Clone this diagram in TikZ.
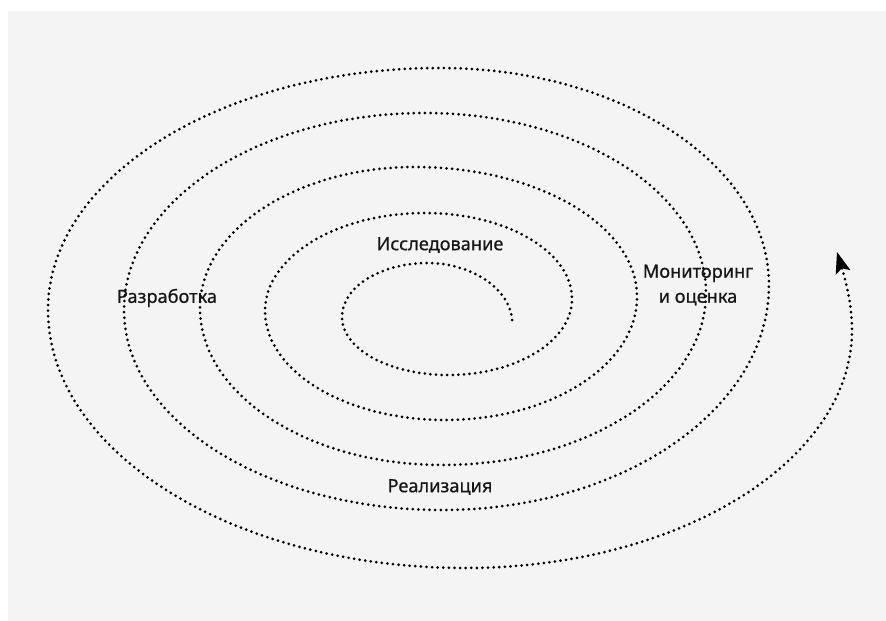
\documentclass[tikz,border=0pt]{standalone}
\usepackage{fontspec}
\setmainfont{Noto Sans}
\newfontfamily\lblfont[FakeBold=0.6]{Noto Sans}
\usetikzlibrary{calc,arrows.meta}
\definecolor{bg}{HTML}{F4F4F4}
\definecolor{ink}{HTML}{161616}
\tikzset{
  qhv/.style={to path={.. controls ($(\tikztostart)!0.5523!(\tikztostart|-\tikztotarget)$) and ($(\tikztotarget)!0.5523!(\tikztostart|-\tikztotarget)$) .. (\tikztotarget)}},
  qvh/.style={to path={.. controls ($(\tikztostart)!0.5523!(\tikztotarget|-\tikztostart)$) and ($(\tikztotarget)!0.5523!(\tikztotarget|-\tikztostart)$) .. (\tikztotarget)}},
  spiral/.style={line width=3pt, line cap=round, dash pattern=on 0pt off 5.6pt, black},
  lbl/.style={text=ink, font=\lblfont\fontsize{18.2}{25}\selectfont, align=center, inner sep=1pt}
}
\begin{document}
\begin{tikzpicture}[x=1pt,y=-1pt]
\useasboundingbox (0,0) rectangle (886,621);
\fill[white] (0,0) rectangle (886,621);
\fill[bg] (8,11) rectangle (886,621);
% extrema of the spiral
\coordinate (s)  at (512,320);
\coordinate (t1) at (428,263);
\coordinate (l1) at (342,317);
\coordinate (b1) at (448,375);
\coordinate (r1) at (572,299);
\coordinate (t2) at (425,213);
\coordinate (l2) at (265,311);
\coordinate (b2) at (445,420);
\coordinate (r2) at (637,297);
\coordinate (t3) at (415,167);
\coordinate (l3) at (200,308);
\coordinate (b3) at (442,465);
\coordinate (r3) at (706,293);
\coordinate (t4) at (425,113);
\coordinate (l4) at (124,310);
\coordinate (b4) at (442,510);
\coordinate (r4) at (769,285);
\coordinate (t5) at (440,68);
\coordinate (l5) at (48,310);
\coordinate (b5) at (465,568);
\coordinate (r5) at (852,330);
\coordinate (e)  at (837,252);
\draw[spiral, -{Stealth[length=21pt,width=15pt,inset=4pt]}]
  (s) .. controls (510,288) and (470,263) .. (t1)
  to[qvh] (l1) to[qhv] (b1) to[qvh] (r1) to[qhv] (t2)
  to[qvh] (l2) to[qhv] (b2) to[qvh] (r2) to[qhv] (t3)
  to[qvh] (l3) to[qhv] (b3) to[qvh] (r3) to[qhv] (t4)
  to[qvh] (l4) to[qhv] (b4) to[qvh] (r4) to[qhv] (t5)
  to[qvh] (l5) to[qhv] (b5) to[qvh] (r5)
  .. controls (852,300) and (843,272) .. (e);
\node[lbl] (res) at (440,245) {Исследование};
\node[lbl] (dev) at (167,298) {Разработка};
\node[lbl] (mon) at (698,285) {Мониторинг\\и оценка};
\node[lbl] (imp) at (440,487) {Реализация};
\end{tikzpicture}
\end{document}
